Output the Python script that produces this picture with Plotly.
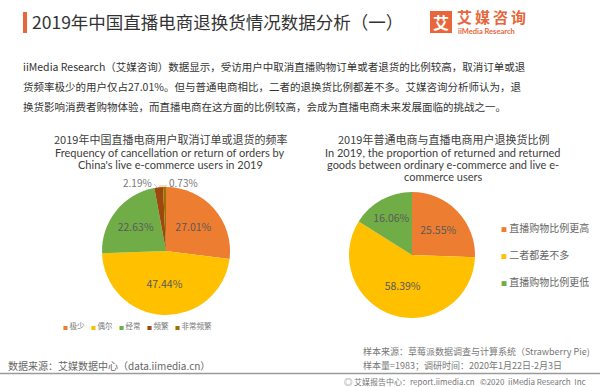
import plotly.graph_objects as go

# ---------------- data ----------------
left_labels = ["极少", "偶尔", "经常", "频繁", "非常频繁"]
left_values = [27.01, 47.44, 22.63, 2.19, 0.73]
left_colors = ["#ED7D31", "#FFC000", "#70AD47", "#9E480E", "#997300"]

right_labels = ["直播购物比例更高", "二者都差不多", "直播购物比例更低"]
right_values = [25.55, 58.39, 16.06]
right_colors = ["#ED7D31", "#FFC000", "#70AD47"]

title_text = "2019年中国直播电商退换货情况数据分析（一）"
body_lines = [
    "iiMedia Research（艾媒咨询）数据显示，受访用户中取消直播购物订单或者退货的比例较高，取消订单或退",
    "货频率极少的用户仅占27.01%。但与普通电商相比，二者的退换货比例都差不多。艾媒咨询分析师认为，退",
    "换货影响消费者购物体验，而直播电商在这方面的比例较高，会成为直播电商未来发展面临的挑战之一。",
]
left_title_cn = "2019年中国直播电商用户取消订单或退货的频率"
left_title_en = ["Frequency of cancellation or return of orders by",
                 "China's live e-commerce users in 2019"]
right_title_cn = "2019年普通电商与直播电商用户退换货比例"
right_title_en = ["In 2019, the proportion of returned and returned",
                  "goods between ordinary e-commerce and live e-",
                  "commerce users"]
footer_left = "数据来源：艾媒数据中心（data.iimedia.cn）"
footer_right = ["样本来源：草莓派数据调查与计算系统（Strawberry Pie)",
                "样本量=1983；调研时间：2020年1月22日-2月3日"]
footer_bottom = "艾媒报告中心：report.iimedia.cn   ©2020  iiMedia Research  Inc"
brand_cn = "艾媒咨询"
brand_en = "iiMedia Research"

W, H = 600, 387
FONT = "Noto Sans CJK SC"
LATIN = "Lato"
ORANGE = "#E8663A"


def px(x):
    return x / W


def py(y):
    return 1 - y / H


fig = go.Figure()

small_left = [v < 5 for v in left_values]
fig.add_trace(go.Pie(
    labels=left_labels, values=left_values, sort=False, direction="clockwise",
    rotation=0, marker=dict(colors=left_colors, line=dict(width=0)),
    texttemplate=["" if s else "%{value:.2f}%" for s in small_left],
    textposition="inside", insidetextorientation="horizontal",
    textfont=dict(family=FONT, size=10.5, color="#5a5a5a"),
    domain=dict(x=[px(102), px(230)], y=[py(315), py(187)]),
    showlegend=False, hoverinfo="label+value",
))
fig.add_trace(go.Pie(
    labels=right_labels, values=right_values, sort=False, direction="clockwise",
    rotation=0, marker=dict(colors=right_colors, line=dict(width=0)),
    texttemplate="%{value:.2f}%",
    textposition="inside", insidetextorientation="horizontal",
    textfont=dict(family=FONT, size=10.5, color="#5a5a5a"),
    domain=dict(x=[px(349), px(475)], y=[py(318), py(192)]),
    showlegend=False, hoverinfo="label+value",
))

ann = []
shapes = []


def text(x, y, s, size, color="#333", xanchor="left", bold=False, family=FONT):
    ann.append(dict(x=px(x), y=py(y), xref="paper", yref="paper", text=("<b>%s</b>" % s) if bold else s,
                    showarrow=False, xanchor=xanchor, yanchor="middle", borderpad=0,
                    font=dict(family=family, size=size, color=color)))


# header
shapes.append(dict(type="rect", xref="paper", yref="paper", x0=px(23), x1=px(27), y0=py(33), y1=py(12),
                   fillcolor=ORANGE, line=dict(width=0)))
text(31, 22, title_text, 17.5, "#333")
shapes.append(dict(type="rect", xref="paper", yref="paper", x0=px(430), x1=px(452), y0=py(33), y1=py(11),
                   fillcolor=ORANGE, line=dict(width=0)))
text(441, 22.5, brand_cn[0], 16, "white", xanchor="center", bold=True)
text(456, 16.5, "&#8201;".join(brand_cn), 15, ORANGE, bold=True)
text(457, 31.5, brand_en, 7.5, ORANGE, bold=True, family=LATIN)

# body
for i, line in enumerate(body_lines):
    text(22, 67 + i * 20, line, 10.5, "#333")

# chart titles
text(170, 139, left_title_cn, 11, "#404040", xanchor="center")
for i, line in enumerate(left_title_en):
    text(170, 152.5 + i * 12, line, 11, "#404040", xanchor="center", family=LATIN)
text(443, 139, right_title_cn, 11, "#404040", xanchor="center")
for i, line in enumerate(right_title_en):
    text(443, 152.5 + i * 12, line, 11, "#404040", xanchor="center", family=LATIN)

# small-slice labels
text(153, 182, "%.2f%%" % left_values[3], 10, "#777", xanchor="right")
text(168, 182, "%.2f%%" % left_values[4], 10, "#777")
shapes.append(dict(type="line", xref="paper", yref="paper", x0=px(154), x1=px(158), y0=py(184), y1=py(188),
                   line=dict(color="#bbbbbb", width=0.8)))
shapes.append(dict(type="line", xref="paper", yref="paper", x0=px(159), x1=px(167), y0=py(186), y1=py(186),
                   line=dict(color="#E8A060", width=0.8)))

# left legend (horizontal)
xs = 62
for lab, col in zip(left_labels, left_colors):
    ann.append(dict(x=px(xs), y=py(325), xref="paper", yref="paper", showarrow=False,
                    xanchor="left", yanchor="middle", borderpad=0,
                    text="<span style='color:%s;font-size:5px'>■</span>&#8201;%s" % (col, lab),
                    font=dict(family=FONT, size=7.5, color="#777")))
    xs += 8 + 7.5 * len(lab) + 5

# right legend (vertical)
for i, (lab, col) in enumerate(zip(right_labels, right_colors)):
    ann.append(dict(x=px(500), y=py(227 + i * 27), xref="paper", yref="paper", showarrow=False,
                    xanchor="left", yanchor="middle", borderpad=0,
                    text="<span style='color:%s;font-size:6px'>■</span> %s" % (col, lab),
                    font=dict(family=FONT, size=10, color="#666")))

# footer
text(7, 365, footer_left, 10, "#666")
for i, line in enumerate(footer_right):
    text(362, 351 + i * 14, line, 9, "#777")
shapes.append(dict(type="line", xref="paper", yref="paper", x0=0, x1=1, y0=py(373.5), y1=py(373.5),
                   line=dict(color="#9a9a9a", width=1.5)))
text(343, 381, "◎", 8.5, "#777")
text(353, 381, footer_bottom, 8, "#777")

fig.update_layout(
    width=W, height=H, margin=dict(l=0, r=0, t=0, b=0),
    paper_bgcolor="white", plot_bgcolor="white",
    annotations=ann, shapes=shapes, showlegend=False,
    font=dict(family=FONT),
)

fig.write_html("out.html", config={"displayModeBar": False},
               post_script="document.body.style.margin='0';")
